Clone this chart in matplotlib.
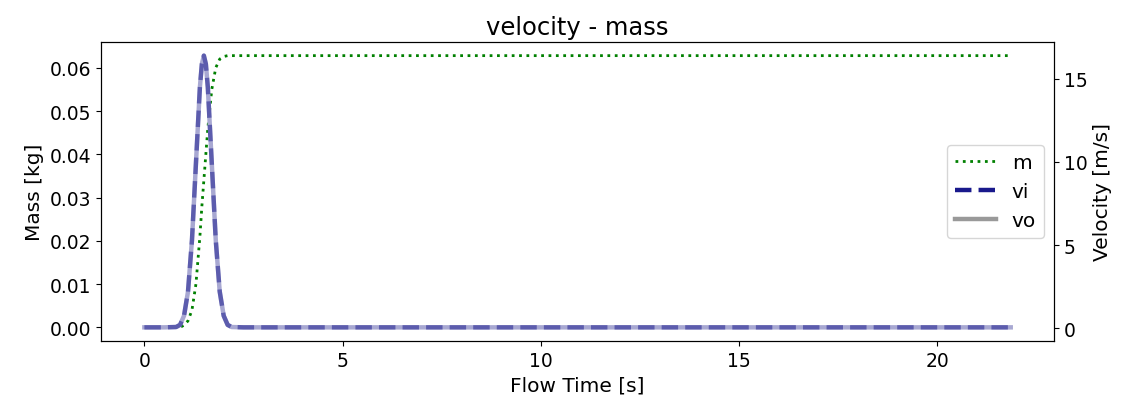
import matplotlib
matplotlib.use('Agg')
import matplotlib.pyplot as plt

# flow time samples [s]
time = [0.0, 0.5, 0.8, 0.9, 1.0, 1.1, 1.2, 1.3, 1.4, 1.45, 1.5, 1.55, 1.6,
        1.7, 1.8, 1.9, 2.0, 2.1, 2.2, 2.5, 3.0, 4.0, 5.0, 6.0, 8.0, 10.0,
        12.0, 14.0, 16.0, 18.0, 20.0, 21.85]

# mass in the domain [kg]
mass = [0.0, 0.0, 0.0, 0.0, 0.0005, 0.0015, 0.004, 0.010, 0.021, 0.028,
        0.034, 0.040, 0.046, 0.055, 0.0600, 0.0620, 0.0626, 0.0628, 0.0628,
        0.0628, 0.0628, 0.0628, 0.0628, 0.0628, 0.0628, 0.0628, 0.0628,
        0.0628, 0.0628, 0.0628, 0.0628, 0.0628]

# inlet / outlet velocity [m/s]
v_in = [0.05, 0.05, 0.07, 0.2, 0.75, 2.2, 5.3, 9.9, 14.5, 15.9, 16.4, 15.9,
        14.5, 9.9, 5.3, 2.2, 0.75, 0.2, 0.07, 0.05, 0.05, 0.05, 0.05, 0.05,
        0.05, 0.05, 0.05, 0.05, 0.05, 0.05, 0.05, 0.05]
v_out = [0.05, 0.05, 0.07, 0.2, 0.75, 2.2, 5.3, 9.9, 14.5, 15.9, 16.4, 15.9,
         14.5, 9.9, 5.3, 2.2, 0.75, 0.2, 0.07, 0.05, 0.05, 0.05, 0.05, 0.05,
         0.05, 0.05, 0.05, 0.05, 0.05, 0.05, 0.05, 0.05]

plt.rcParams['font.size'] = 14.5
plt.rcParams['xtick.labelsize'] = 13.5
plt.rcParams['ytick.labelsize'] = 13.5

fig = plt.figure(figsize=(11.23, 4.10), dpi=100)
ax = fig.add_axes([0.09, 0.166, 0.8486, 0.729])
ax2 = ax.twinx()

l1, = ax.plot(time, mass, ':', c='green', lw=2, label='m')
l3, = ax2.plot(time, v_out, '-', c='#a8a8d2', lw=3.2, label='vo')
l2, = ax2.plot(time, v_in, '--', c='navy', lw=3.2, alpha=0.45, label='vi')

ax.set_xlabel('Flow Time [s]')
ax.set_ylabel('Mass [kg]')
ax2.set_ylabel('Velocity [m/s]')
ax.set_title('velocity - mass', fontsize=17.5)

ax.set_xticks([0, 5, 10, 15, 20])
ax.set_yticks([0.0, 0.01, 0.02, 0.03, 0.04, 0.05, 0.06])
ax.yaxis.set_major_formatter(matplotlib.ticker.FormatStrFormatter('%.2f'))
ax2.set_yticks([0, 5, 10, 15])

leg = ax2.legend([l1, l2, l3], ['m', 'vi', 'vo'], loc='center right')
# solid colours in the legend keys
leg.legend_handles[1].set_alpha(0.9)
leg.legend_handles[2].set_color('gray')
leg.legend_handles[2].set_alpha(0.8)

fig.savefig('out.png', dpi=100)
